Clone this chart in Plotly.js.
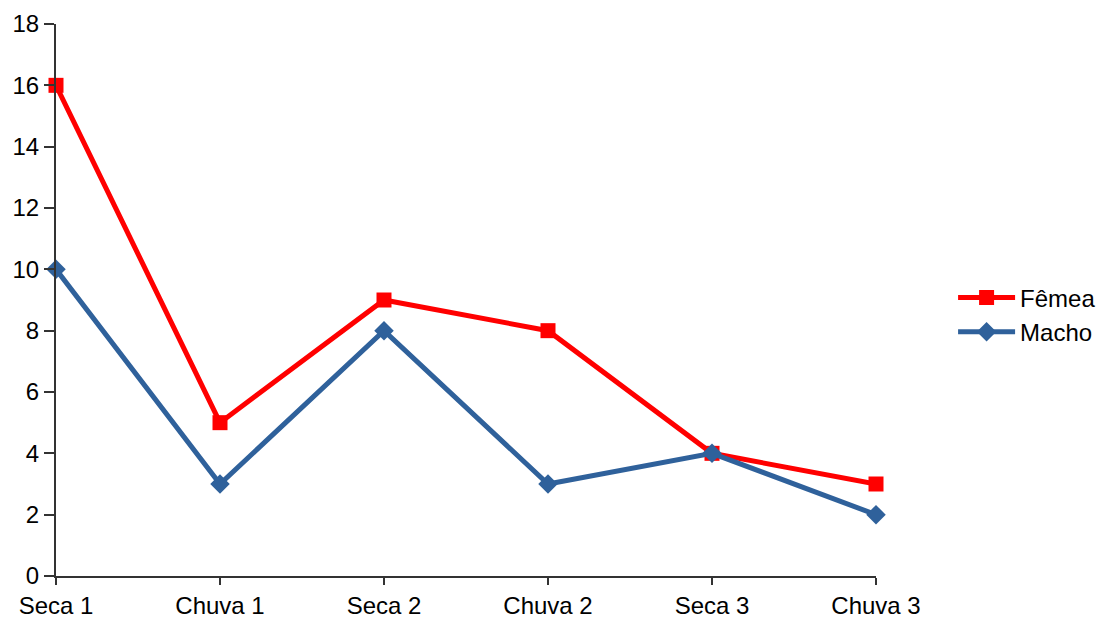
<!DOCTYPE html>
<html>
<head>
<meta charset="utf-8">
<script src="https://cdn.plot.ly/plotly-3.0.1.min.js"></script>
<style>html,body{margin:0;padding:0;background:#fff;}</style>
</head>
<body>
<div id="chart" style="width:1103px;height:620px;"></div>
<script>
const categories = ["Seca 1", "Chuva 1", "Seca 2", "Chuva 2", "Seca 3", "Chuva 3"];
const femea = [16, 5, 9, 8, 4, 3];
const macho = [10, 3, 8, 3, 4, 2];
const yTicks = [0, 2, 4, 6, 8, 10, 12, 14, 16, 18];

const traces = [
  {
    x: categories, y: femea, name: "Fêmea", type: "scatter", mode: "lines+markers",
    cliponaxis: false,
    line: {color: "#ff0000", width: 5},
    marker: {symbol: "square", size: 15, color: "#ff0000"}
  },
  {
    x: categories, y: macho, name: "Macho", type: "scatter", mode: "lines+markers",
    cliponaxis: false,
    line: {color: "#2f619b", width: 5},
    marker: {symbol: "diamond", size: 15, color: "#2f619b"}
  }
];

const layout = {
  width: 1103, height: 620,
  margin: {l: 56, r: 227, t: 24, b: 44, pad: 0, autoexpand: false},
  paper_bgcolor: "#fff", plot_bgcolor: "#fff",
  font: {family: "Liberation Sans, Arial, sans-serif", size: 24, color: "#000"},
  showlegend: true,
  legend: {x: 1.094, xanchor: "left", y: 0.473, yanchor: "middle", font: {size: 24},
           bgcolor: "rgba(0,0,0,0)", tracegroupgap: 0, itemwidth: 57},
  xaxis: {
    type: "category", range: [0, 5], showgrid: false, zeroline: false,
    showline: true, linecolor: "#333", linewidth: 2,
    ticks: "outside", ticklen: 7, tickwidth: 2, tickcolor: "#333",
    tickfont: {size: 24}
  },
  yaxis: {
    range: [0, 18], tickvals: yTicks, showgrid: false, zeroline: false,
    showline: true, linecolor: "#333", linewidth: 2,
    ticks: "outside", ticklen: 10, tickwidth: 2, tickcolor: "#333",
    tickfont: {size: 24}
  }
};

Plotly.newPlot("chart", traces, layout, {displayModeBar: false, staticPlot: true});
</script>
</body>
</html>
